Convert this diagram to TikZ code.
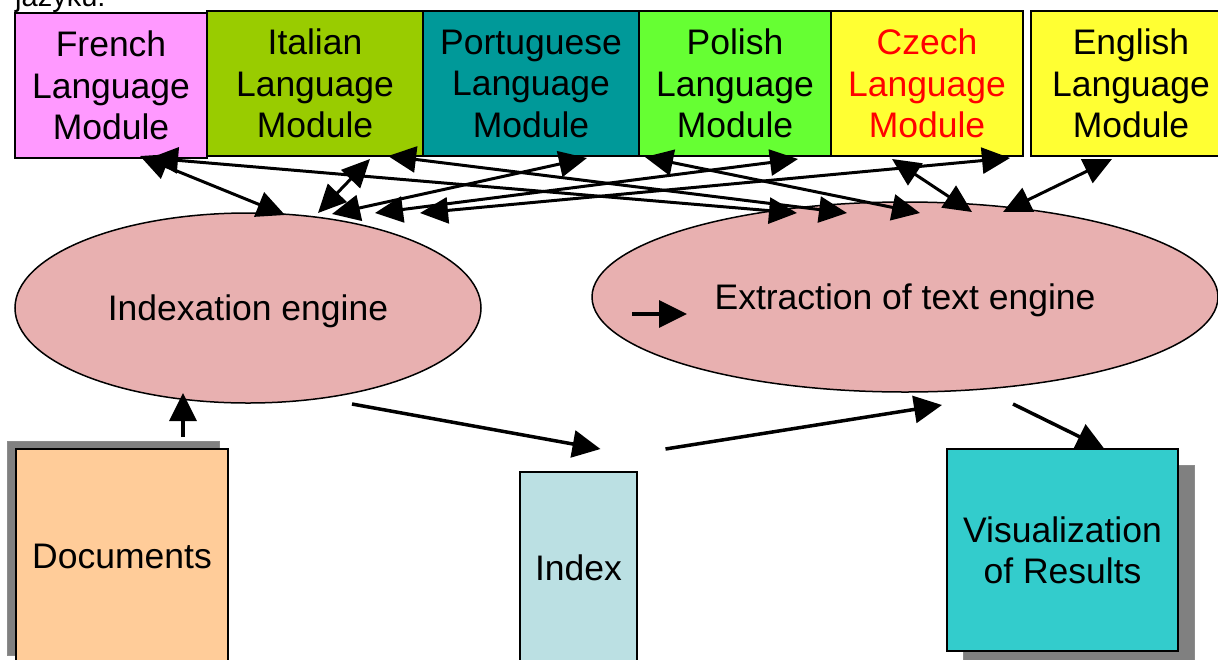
\documentclass[tikz,border=0pt]{standalone}
\usepackage{fontspec}
\setmainfont{Liberation Sans}
\usetikzlibrary{arrows.meta, shapes.geometric, shadows}

\definecolor{frenchpink}{HTML}{FF99FF}
\definecolor{italiangreen}{HTML}{99CC00}
\definecolor{portugueseteal}{HTML}{009999}
\definecolor{polishgreen}{HTML}{66FF33}
\definecolor{czechyellow}{HTML}{FFFF33}
\definecolor{czechred}{HTML}{FF0000}
\definecolor{enginepink}{RGB}{232,176,176}
\definecolor{docorange}{HTML}{FFCC99}
\definecolor{indexblue}{HTML}{BBE0E3}
\definecolor{viscyan}{HTML}{33CCCC}
\definecolor{shadowgray}{HTML}{808080}

\tikzset{
  module/.style={draw, line width=1.5pt, inner sep=0pt, outer sep=0pt, anchor=north west,
    minimum height=145pt, minimum width=192pt, align=center,
    font=\fontsize{35.5}{41.5}\selectfont},
  engine/.style={ellipse, draw, line width=1.5pt, fill=enginepink, inner sep=0pt, outer sep=0pt,
    minimum height=190pt, text depth=0pt, font=\fontsize{35.5}{41}\selectfont},
  store/.style={draw, line width=1.8pt, inner sep=0pt, outer sep=0pt, anchor=north west,
    align=center, font=\fontsize{35.5}{41}\selectfont},
  link/.style={line width=3pt, {Triangle[length=28pt,width=26pt]}-{Triangle[length=28pt,width=26pt]}},
  flow/.style={line width=3.5pt, -{Triangle[length=28pt,width=27pt]}}
}

\begin{document}
\begin{tikzpicture}[x=1pt, y=-1pt]
      \useasboundingbox (0,0) rectangle (1218,659);

      \node[anchor=base west, inner sep=0pt, font=\fontsize{29}{30}\selectfont] (caption) at (15,6) {jazyku:};

      % language modules
      \node[module, fill=frenchpink] (french) at (15,13) {French\\Language\\Module};
      \node[module, fill=italiangreen, minimum width=216pt] (italian) at (207,11) {Italian\\Language\\Module};
      \node[module, fill=portugueseteal, minimum width=216pt] (portuguese) at (423,11) {Portuguese\\Language\\Module};
      \node[module, fill=polishgreen] (polish) at (639,11) {Polish\\Language\\Module};
      \node[module, fill=czechyellow, text=czechred] (czech) at (831,11) {Czech\\Language\\Module};
      \node[module, fill=czechyellow, minimum width=200pt] (english) at (1031,11) {English\\Language\\Module};

      % engines
      \node[engine, minimum width=466pt] (idx) at (248,308) {Indexation engine};
      \node[engine, minimum width=626pt] (ext) at (905,297) {Extraction of text engine};

      % stores
      \node[store, fill=docorange, minimum width=212pt, minimum height=214pt,
        drop shadow={shadow xshift=-9pt, shadow yshift=8pt, fill=shadowgray, draw=gray!90, line width=1pt, opacity=1}] (docs) at (16,449) {Documents};
      \node[store, fill=indexblue, minimum width=117pt, minimum height=192pt] (index) at (520,472) {Index};
      \node[store, fill=viscyan, minimum width=231pt, minimum height=202pt,
        drop shadow={shadow xshift=16pt, shadow yshift=-16pt, fill=shadowgray, draw=gray!90, line width=1pt, opacity=1}] (vis) at (947,449) {Visualization\\of Results};

      % modules <-> engines
      \draw[link] ([xshift=29pt,yshift=2pt]french.south) -- ([xshift=37pt,yshift=-2pt]idx.north);
      \draw[link] ([xshift=39pt]french.south) -- ([xshift=-108pt,yshift=-11pt]ext.north);
      \draw[link] ([xshift=55pt,yshift=-3pt]italian.south) -- ([xshift=70pt]idx.north);
      \draw[link] ([xshift=73pt]italian.south) -- ([xshift=-58pt,yshift=-11pt]ext.north);
      \draw[link] ([xshift=56pt,yshift=-2pt]portuguese.south) -- ([xshift=84pt,yshift=-1pt]idx.north);
      \draw[link] ([xshift=63pt,yshift=-3pt]polish.south) -- ([xshift=127pt]idx.north);
      \draw[link] ([xshift=-90pt,yshift=-1pt]polish.south) -- ([xshift=15pt,yshift=-11pt]ext.north);
      \draw[link] ([xshift=83pt,yshift=-2pt]czech.south) -- ([xshift=172pt]idx.north);
      \draw[link] ([xshift=-35pt,yshift=-3pt]czech.south) -- ([xshift=67pt,yshift=-10pt]ext.north);
      \draw[link] ([xshift=-19pt,yshift=-3pt]english.south) -- ([xshift=98pt,yshift=-10pt]ext.north);

      % data flow
      \draw[flow] ([xshift=61pt,yshift=12pt]docs.north) -- ([xshift=-65pt,yshift=10pt]idx.south);
      \draw[flow] ([xshift=104pt,yshift=-1pt]idx.south) -- ([xshift=22pt,yshift=23pt]index.north);
      \draw[flow] ([xshift=87pt,yshift=23pt]index.north) -- ([xshift=37pt,yshift=-13pt]ext.south);
      \draw[flow] ([xshift=108pt,yshift=-12pt]ext.south) -- ([xshift=42pt]vis.north);

      \coordinate (stray tail) at ([xshift=-273pt,yshift=-17pt]ext.center);
      \coordinate (stray tip) at ([xshift=-218pt,yshift=-17pt]ext.center);
      \draw[flow] (stray tail) -- (stray tip);

    \end{tikzpicture}
\end{document}
